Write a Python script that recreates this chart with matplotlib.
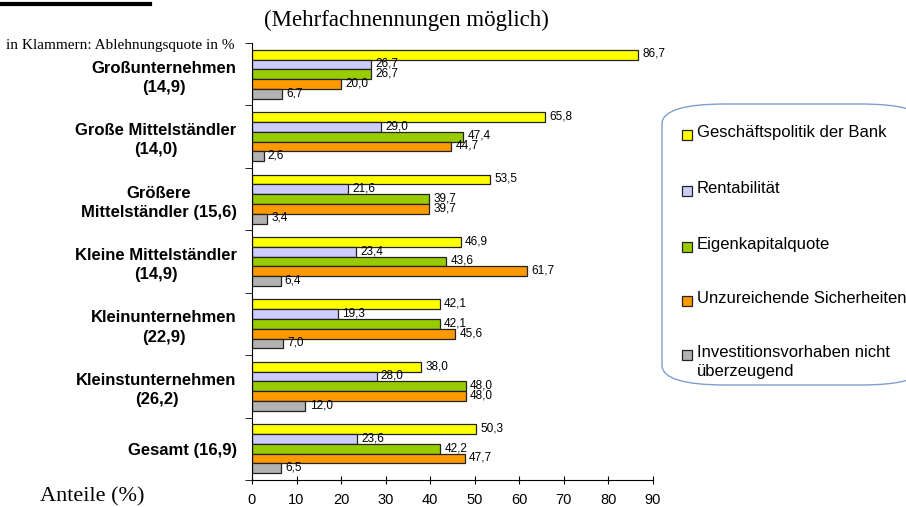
import matplotlib
matplotlib.use("Agg")
import matplotlib.pyplot as plt
from matplotlib.patches import FancyBboxPatch, Rectangle
from matplotlib.lines import Line2D
import numpy as np

categories = ["Großunternehmen\n(14,9)", "Große Mittelständler\n(14,0)",
              "Größere\nMittelständler (15,6)", "Kleine Mittelständler\n(14,9)",
              "Kleinunternehmen\n(22,9)", "Kleinstunternehmen\n(26,2)", "Gesamt (16,9)"]
series_names = ["Geschäftspolitik der Bank", "Rentabilität", "Eigenkapitalquote",
                "Unzureichende Sicherheiten", "Investitionsvorhaben nicht\nüberzeugend"]
geschaeftspolitik = [86.7, 65.8, 53.5, 46.9, 42.1, 38.0, 50.3]
rentabilitaet = [26.7, 29.0, 21.6, 23.4, 19.3, 28.0, 23.6]
eigenkapital = [26.7, 47.4, 39.7, 43.6, 42.1, 48.0, 42.2]
sicherheiten = [20.0, 44.7, 39.7, 61.7, 45.6, 48.0, 47.7]
investition = [6.7, 2.6, 3.4, 6.4, 7.0, 12.0, 6.5]
series = [geschaeftspolitik, rentabilitaet, eigenkapital, sicherheiten, investition]
colors = ["#FFFF00", "#CCCCFF", "#99CC00", "#FF9900", "#B2B2B2"]
xticks = list(range(0, 100, 10))

W, H = 906, 507
fig = plt.figure(figsize=(W/100, H/100), dpi=100)
ax = fig.add_axes([252/W, 1-480/H, (653-252)/W, (480-43)/H])

n = len(categories)
bh = 0.157
for j, (vals, c) in enumerate(zip(series, colors)):
    y = np.arange(n) + (j - 2) * bh
    ax.barh(y, vals, height=bh, color=c, edgecolor="#222222", linewidth=0.9)
    for yy, v in zip(y, vals):
        ax.annotate(f"{v:.1f}".replace(".", ","), (v, yy), xytext=(3, 0.5),
                    textcoords="offset points", va="center", ha="left",
                    fontsize=8.5, family="Liberation Sans")

ax.set_xlim(0, 90)
ax.set_ylim(n - 0.5, -0.5)
ax.set_xticks(xticks)
ax.set_xticklabels([str(t) for t in xticks], family="Liberation Sans", fontsize=10.5)
ax.tick_params(axis="x", direction="inout", length=6, pad=6)
ax.set_yticks(np.arange(n))
ax.set_yticklabels(categories, family="Liberation Sans", fontweight="bold",
                   fontsize=12, multialignment="center", linespacing=1.35)
ax.tick_params(axis="y", length=0, pad=11)
ax.set_yticks(np.arange(n + 1) - 0.5, minor=True)
ax.tick_params(axis="y", which="minor", length=5, direction="out")
for s in ["top", "right"]:
    ax.spines[s].set_visible(False)

fig.text(406/W, 1-20/H, "(Mehrfachnennungen möglich)", ha="center", va="center",
         family="Liberation Serif", fontsize=16.5)
fig.text(6/W, 1-45/H, "in Klammern: Ablehnungsquote in %", ha="left", va="center",
         family="Liberation Serif", fontsize=11)
fig.text(40/W, 1-497/H, "Anteile (%)", ha="left", va="center",
         family="Liberation Serif", fontsize=16)
fig.add_artist(Line2D([0, 150/W], [1-4/H, 1-4/H], color="black", lw=3,
                      transform=fig.transFigure))

box = FancyBboxPatch((662/W, 1-385/H), 262/W, 281/H,
                     boxstyle="round,pad=0,rounding_size=0.07",
                     transform=fig.transFigure, facecolor="white",
                     edgecolor="#7F9FCF", linewidth=1, mutation_aspect=H/W)
fig.add_artist(box)
legend_y = [135, 191, 247, 301, 355]
for name, c, ly in zip(series_names, colors, legend_y):
    fig.add_artist(Rectangle((682/W, 1-(ly+5)/H), 10/W, 10/H,
                             transform=fig.transFigure, facecolor=c,
                             edgecolor="#222222", linewidth=0.9))
    fig.text(697/W, 1-(ly-10)/H, name, ha="left", va="top",
             family="Liberation Sans", fontsize=12, linespacing=1.3)

fig.savefig("out.png", dpi=100)
